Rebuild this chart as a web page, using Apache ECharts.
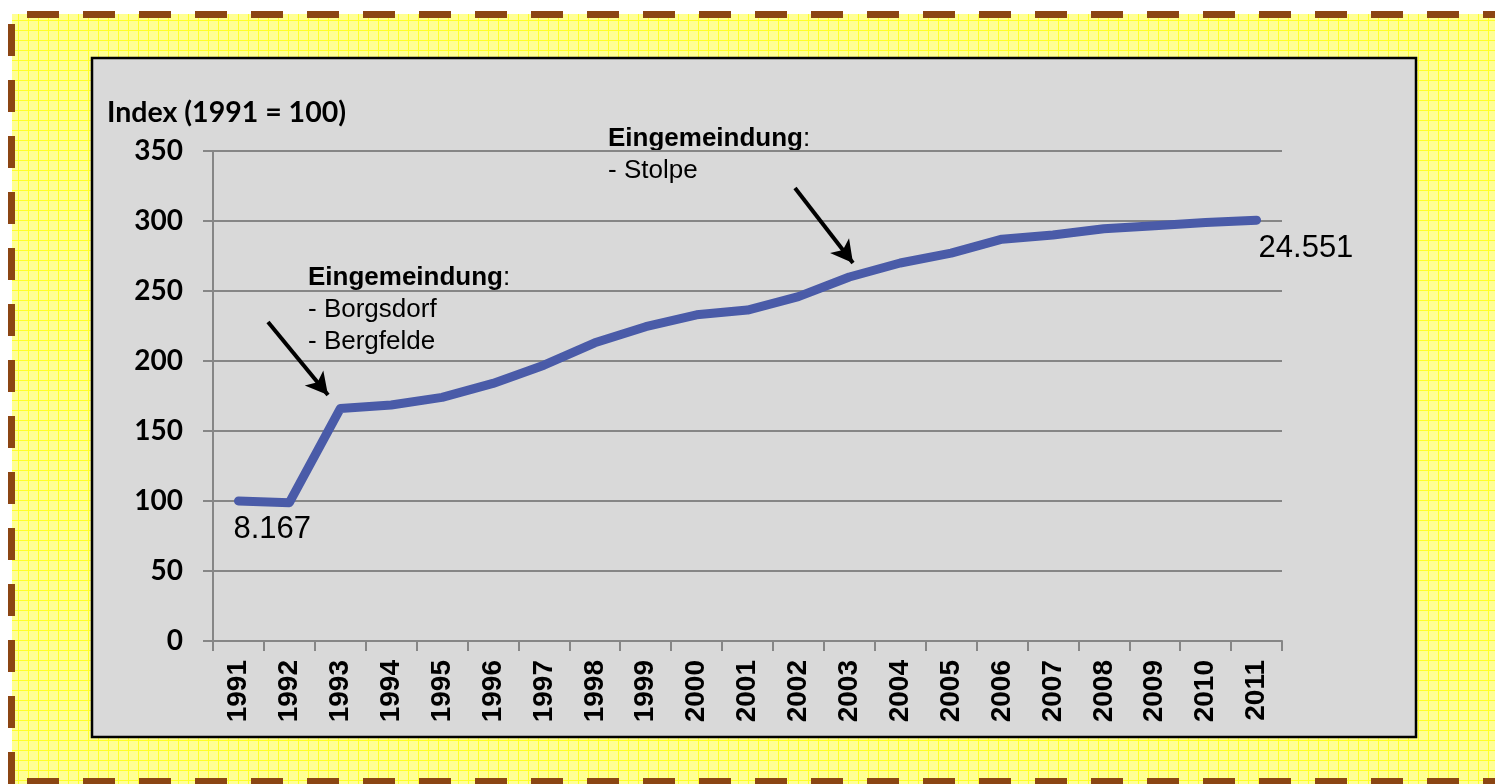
<!DOCTYPE html>
<html>
<head>
<meta charset="utf-8">
<script src="https://cdn.jsdelivr.net/npm/echarts@6/dist/echarts.min.js"></script>
<style>
html,body{margin:0;padding:0;width:1495px;height:784px;overflow:hidden;background:#ffffff;}
#bg{position:absolute;left:12px;top:14px;right:0;bottom:0;background-color:#ffff94;
background-image:linear-gradient(#ffff28 1px,transparent 1px),linear-gradient(90deg,#ffff28 1px,transparent 1px);
background-size:10px 10px;background-position:-4px -4px;}
#chart{position:absolute;left:0;top:0;width:1495px;height:784px;}
</style>
</head>
<body>
<div id="bg"></div>
<div id="chart"></div>
<script>
const years = ['1991','1992','1993','1994','1995','1996','1997','1998','1999','2000','2001','2002','2003','2004','2005','2006','2007','2008','2009','2010','2011'];
const indexValues = [100, 98.8, 166, 168.6, 174, 184, 197, 213, 224.5, 233, 236.4, 246, 260, 270, 277, 287, 290, 294.5, 296.6, 299, 300.6];
const populationLabels = {0: '8.167', 20: '24.551'};
const yTicks = [0, 50, 100, 150, 200, 250, 300, 350];
const axisTitle = 'Index (1991 = 100)';
const note1Lines = ['- Borgsdorf', '- Bergfelde'];
const note2Lines = ['- Stolpe'];

const chart = echarts.init(document.getElementById('chart'), null, {renderer: 'canvas'});

const seriesData = indexValues.map((v, i) => {
  if (populationLabels[i] !== undefined) {
    return {
      value: v,
      label: {
        show: true,
        formatter: populationLabels[i],
        position: 'bottom',
        align: 'left',
        distance: 12,
        offset: [i === 0 ? -5 : 2, 0],
        fontFamily: 'Liberation Sans',
        fontSize: 31,
        color: '#000'
      }
    };
  }
  return v;
});

const dashStyle = {stroke: '#8b4513', lineWidth: 7, lineDash: [32, 24]};

chart.setOption({
  animation: false,
  backgroundColor: 'transparent',
  title: {
    text: axisTitle,
    left: 102,
    top: 93,
    textStyle: {fontFamily: 'Lato', fontWeight: 'bold', fontSize: 28.5, color: '#000'}
  },
  grid: {left: 213, right: 213, top: 151, bottom: 143},
  xAxis: {
    type: 'category',
    data: years,
    boundaryGap: true,
    axisLine: {lineStyle: {color: '#868686', width: 2}},
    axisTick: {show: true, length: 10, lineStyle: {color: '#868686', width: 2}},
    axisLabel: {rotate: 90, margin: 19, fontFamily: 'Liberation Sans', fontWeight: 'bold', fontSize: 28, color: '#000'},
    splitLine: {show: false}
  },
  yAxis: {
    type: 'value',
    min: 0,
    max: 350,
    interval: 50,
    axisLine: {show: true, lineStyle: {color: '#868686', width: 2}},
    axisTick: {show: true, length: 10, lineStyle: {color: '#868686', width: 2}},
    axisLabel: {margin: 30, fontFamily: 'Lato', fontWeight: 'bold', fontSize: 28, color: '#000',
      formatter: v => yTicks.indexOf(v) >= 0 ? String(v) : ''},
    splitLine: {show: true, lineStyle: {color: '#868686', width: 2}}
  },
  graphic: [
    {type: 'rect', z: -10, shape: {x: 92, y: 58, width: 1324, height: 679},
     style: {fill: '#d9d9d9', stroke: '#000', lineWidth: 2.5}},
    {type: 'line', z: -10, shape: {x1: 27, y1: 14.5, x2: 1520, y2: 14.5}, style: dashStyle},
    {type: 'line', z: -10, shape: {x1: 27, y1: 781.5, x2: 1520, y2: 781.5}, style: dashStyle},
    {type: 'line', z: -10, shape: {x1: 11.5, y1: 24, x2: 11.5, y2: 800}, style: dashStyle},
    {type: 'text', left: 308, top: 262, style: {
      text: '{b|Eingemeindung}:\n' + note1Lines.join('\n'),
      font: '26px "Liberation Sans"', fill: '#000', lineHeight: 32,
      rich: {b: {fontWeight: 'bold', fontSize: 26, fontFamily: 'Liberation Sans', lineHeight: 32}}
    }},
    {type: 'text', left: 608, top: 123, style: {
      text: '{b|Eingemeindung}:\n' + note2Lines.join('\n'),
      font: '26px "Liberation Sans"', fill: '#000', lineHeight: 32,
      rich: {b: {fontWeight: 'bold', fontSize: 26, fontFamily: 'Liberation Sans', lineHeight: 32}}
    }}
  ],
  series: [{
    type: 'line',
    data: seriesData,
    symbol: 'circle',
    symbolSize: 1,
    showSymbol: true,
    itemStyle: {color: 'rgba(0,0,0,0)'},
    lineStyle: {color: '#4a5ba8', width: 9, cap: 'round', join: 'round'},
    markLine: {
      silent: true,
      symbol: ['none', 'arrow'],
      symbolSize: [18, 22],
      label: {show: false},
      lineStyle: {color: '#000', width: 4, type: 'solid'},
      data: [
        [{x: 268, y: 322}, {x: 328, y: 395}],
        [{x: 795, y: 188}, {x: 853, y: 263}]
      ]
    }
  }]
});
</script>
</body>
</html>
